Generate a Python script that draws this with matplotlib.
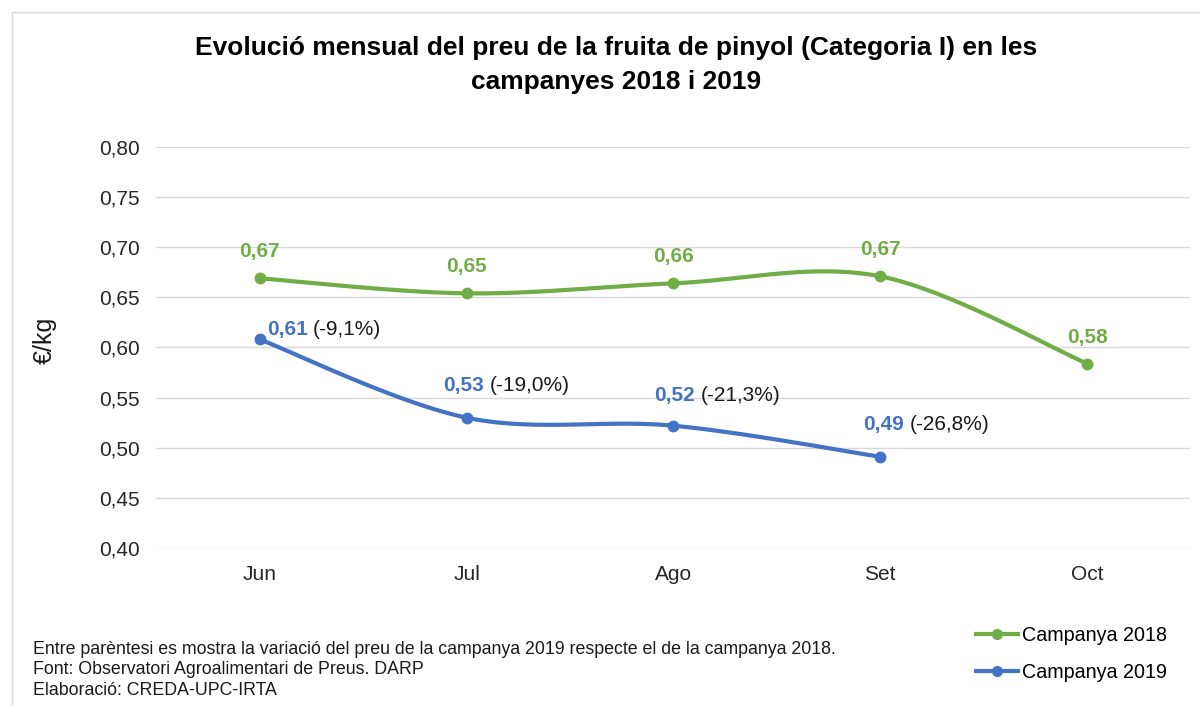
import numpy as np
import matplotlib.pyplot as plt
from matplotlib.patches import Rectangle

plt.rcParams['font.family'] = ['Liberation Sans', 'DejaVu Sans']

months = ['Jun', 'Jul', 'Ago', 'Set', 'Oct']
preu_2018 = [0.669, 0.654, 0.664, 0.671, 0.584]
preu_2019 = [0.608, 0.530, 0.522, 0.491]
variacio = ['(-9,1%)', '(-19,0%)', '(-21,3%)', '(-26,8%)']
yticks = [0.40, 0.45, 0.50, 0.55, 0.60, 0.65, 0.70, 0.75, 0.80]

verd = '#70AD47'
blau = '#4472C4'


def smooth(xs, ys, sx=207.0, sy=1002.0, n=40):
    # bezier smoothing like excel, done in pixel-like units
    p = np.column_stack([np.asarray(xs, float) * sx, np.asarray(ys, float) * sy])
    out = [p[0]]
    for i in range(len(p) - 1):
        p0 = p[max(i - 1, 0)]
        p1, p2 = p[i], p[i + 1]
        p3 = p[min(i + 2, len(p) - 1)]
        c1 = p1 + (p2 - p0) / 6
        c2 = p2 - (p3 - p1) / 6
        t = np.linspace(0, 1, n)[1:, None]
        seg = (1 - t) ** 3 * p1 + 3 * (1 - t) ** 2 * t * c1 + 3 * (1 - t) * t ** 2 * c2 + t ** 3 * p2
        out.extend(seg)
    out = np.array(out)
    return out[:, 0] / sx, out[:, 1] / sy


def fmt(v):
    return f'{v:.2f}'.replace('.', ',')


fig = plt.figure(figsize=(12, 7.06), dpi=100)
ax = fig.add_axes([0.1304, 0.2238, 0.8616, 0.568])

x18 = np.arange(len(preu_2018))
x19 = np.arange(len(preu_2019))

sx, sy = smooth(x18, preu_2018)
ax.plot(sx, sy, color=verd, lw=3, solid_capstyle='round', zorder=3)
ax.plot(x18, preu_2018, 'o', color=verd, ms=7.5, zorder=4)
sx, sy = smooth(x19, preu_2019)
ax.plot(sx, sy, color=blau, lw=3, solid_capstyle='round', zorder=3)
ax.plot(x19, preu_2019, 'o', color=blau, ms=7.5, zorder=4)

# legend handles
ax.plot([], [], '-o', color=verd, lw=3, ms=7, label='Campanya 2018')
ax.plot([], [], '-o', color=blau, lw=3, ms=7, label='Campanya 2019')

for x, v in zip(x18, preu_2018):
    ax.annotate(fmt(v), (x, v), xytext=(0, 19), textcoords='offset points',
                ha='center', va='center', color=verd, fontsize=15, fontweight='bold')

offs = [(5, 7), (-17, 23), (-14, 22), (-12, 23)]
for x, v, pct, (dx, dy) in zip(x19, preu_2019, variacio, offs):
    a = ax.annotate(fmt(v), (x, v), xytext=(dx, dy), textcoords='offset points',
                    ha='left', va='center', color=blau, fontsize=15, fontweight='bold')
    ax.annotate(pct, (1, 0.5), xycoords=a, xytext=(4, 0), textcoords='offset points',
                ha='left', va='center', color='#1a1a1a', fontsize=15)

ax.set_xlim(-0.5, 4.5)
ax.set_ylim(0.40, 0.80)
ax.set_xticks(x18)
ax.set_xticklabels(months)
ax.set_yticks(yticks)
ax.set_yticklabels([fmt(t) for t in yticks])
ax.tick_params(length=0, labelsize=15, colors='#262626', pad=12.5)
ax.tick_params(axis='y', pad=12)
ax.grid(axis='y', color='#D9D9D9', lw=1)
ax.set_axisbelow(True)
for s in ax.spines.values():
    s.set_visible(False)

fig.text(45 / 1200, 1 - 340 / 706, '€/kg', rotation=90, ha='center', va='center',
         fontsize=18, color='#1a1a1a')

fig.text(0.5133, 0.908, 'Evolució mensual del preu de la fruita de pinyol (Categoria I) en les\ncampanyes 2018 i 2019',
         ha='center', va='center', fontsize=19, fontweight='bold', linespacing=1.5)

fig.text(0.0275, 0.0510, 'Entre parèntesi es mostra la variació del preu de la campanya 2019 respecte el de la campanya 2018.\n'
         'Font: Observatori Agroalimentari de Preus. DARP\nElaboració: CREDA-UPC-IRTA',
         ha='left', va='center', fontsize=12.8, linespacing=1.3, color='#1a1a1a')

leg = ax.legend(loc='center left', bbox_to_anchor=(0.7985, 0.0737), bbox_transform=fig.transFigure,
                frameon=False, fontsize=14.2, handlelength=2.14, handletextpad=0.2, labelspacing=0.88)

fig.patches.append(Rectangle((12 / 1200, -0.05), 1.1, 1 - 12 / 706 + 0.05, transform=fig.transFigure,
                             fill=False, edgecolor='#D9D9D9', lw=1))

fig.savefig('out.png', dpi=100)
